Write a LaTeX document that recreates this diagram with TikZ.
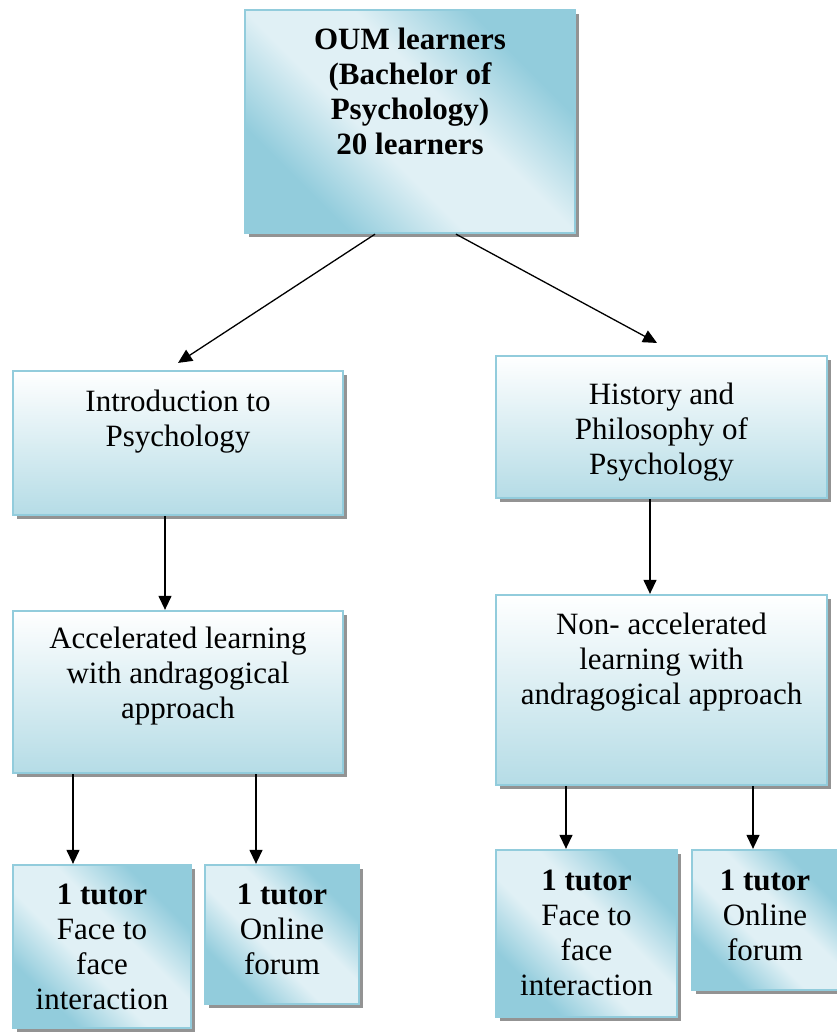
\documentclass[tikz,border=0pt]{standalone}
\usepackage{fontspec}
\setmainfont{Liberation Serif}
\usepackage{xcolor}
\usepackage{tikz}
\usetikzlibrary{arrows.meta}
\usetikzlibrary{calc}
\usetikzlibrary{shadows}
\definecolor{rimblue}{RGB}{146,204,220}
\definecolor{deepblue}{RGB}{146,204,220}
\definecolor{paleblue}{RGB}{224,240,245}
\definecolor{lowblue}{RGB}{181,220,230}
\pgfdeclareverticalshading{glow}{100bp}{color(0bp)=(deepblue); color(28bp)=(deepblue);
  color(43bp)=(paleblue); color(57bp)=(paleblue); color(72bp)=(deepblue); color(100bp)=(deepblue)}
\tikzset{
  box/.style={draw=rimblue, line width=2.3pt, inner sep=0pt,
    drop shadow={shadow xshift=4pt, shadow yshift=-4pt, fill=gray!85, opacity=1}},
  fadebox/.style={box, top color=white, bottom color=lowblue},
  glowbox/.style={box, shade, shading=glow, shading angle=-45},
  boxtext/.style={anchor=north, inner sep=0pt, align=center, font=\fontsize{31}{35}\selectfont},
  arr/.style={-{Triangle[length=14pt,width=13pt]}, line width=1.3pt}
}

\begin{document}
\begin{tikzpicture}[x=1pt, y=-1pt]
  \useasboundingbox (0,0) rectangle (836,1033);

  % Boxes
  \node [glowbox, minimum width=330pt, minimum height=223pt] (oum) at (410,121.5) {};
  \node [fadebox, minimum width=330pt, minimum height=144pt] (intro) at (178,443) {};
  \node [fadebox, minimum width=331pt, minimum height=142pt] (hist) at (661.5,427) {};
  \node [fadebox, minimum width=330pt, minimum height=162pt] (accel) at (178,692) {};
  \node [fadebox, minimum width=331pt, minimum height=190pt] (nonacc) at (661.5,690) {};
  \node [glowbox, minimum width=178pt, minimum height=163pt] (faceA) at (102,946.5) {};
  \node [glowbox, minimum width=154pt, minimum height=139pt] (forumA) at (282,934.5) {};
  \node [glowbox, minimum width=181pt, minimum height=167pt] (faceB) at (586.5,933.5) {};
  \node [glowbox, minimum width=146pt, minimum height=140pt] (forumB) at (765,920) {};

  % Texts
  \node [boxtext, font=\fontsize{31}{35}\selectfont\bfseries] (oum-t) at ([yshift=-15.5pt]oum.north) {\strut OUM learners\\(Bachelor of\\Psychology)\\20 learners};
  \node [boxtext] (intro-t) at ([yshift=-16.5pt]intro.north) {\strut Introduction to\\Psychology};
  \node [boxtext] (hist-t) at ([yshift=-24.5pt]hist.north) {\strut History and\\Philosophy of\\Psychology};
  \node [boxtext] (accel-t) at ([yshift=-13.5pt]accel.north) {\strut Accelerated learning\\with andragogical\\approach};
  \node [boxtext] (nonacc-t) at ([yshift=-15.5pt]nonacc.north) {\strut Non- accelerated\\learning with\\andragogical approach};
  \node [boxtext] (faceA-t) at ([yshift=-15.5pt]faceA.north) {{\bfseries\strut 1 tutor}\\Face to\\face\\interaction};
  \node [boxtext] (forumA-t) at ([yshift=-15.5pt]forumA.north) {{\bfseries\strut 1 tutor}\\Online\\forum};
  \node [boxtext] (faceB-t) at ([yshift=-16.5pt]faceB.north) {{\bfseries\strut 1 tutor}\\Face to\\face\\interaction};
  \node [boxtext] (forumB-t) at ([yshift=-16.5pt]forumB.north) {{\bfseries\strut 1 tutor}\\Online\\forum};

  % Arrows
  \draw [arr, shorten >=12.7pt] ([xshift=-35pt]oum.south) -- ([xshift=-10.6pt]intro.north);
  \draw [arr, shorten >=25pt] ([xshift=46pt]oum.south) -- ([xshift=17.5pt]hist.north);
  \draw [arr] ([xshift=-13pt]intro.south) -- ([xshift=-13pt]accel.north);
  \draw [arr] ([xshift=-11.5pt]hist.south) -- ([xshift=-11.5pt]nonacc.north);
  \draw [arr] ([xshift=-105pt]accel.south) -- ([xshift=-105pt]accel.south |- faceA.north);
  \draw [arr] ([xshift=78pt]accel.south) -- ([xshift=78pt]accel.south |- forumA.north);
  \draw [arr] ([xshift=-95.5pt]nonacc.south) -- ([xshift=-95.5pt]nonacc.south |- faceB.north);
  \draw [arr] ([xshift=91.5pt]nonacc.south) -- ([xshift=91.5pt]nonacc.south |- forumB.north);
\end{tikzpicture}
\end{document}
